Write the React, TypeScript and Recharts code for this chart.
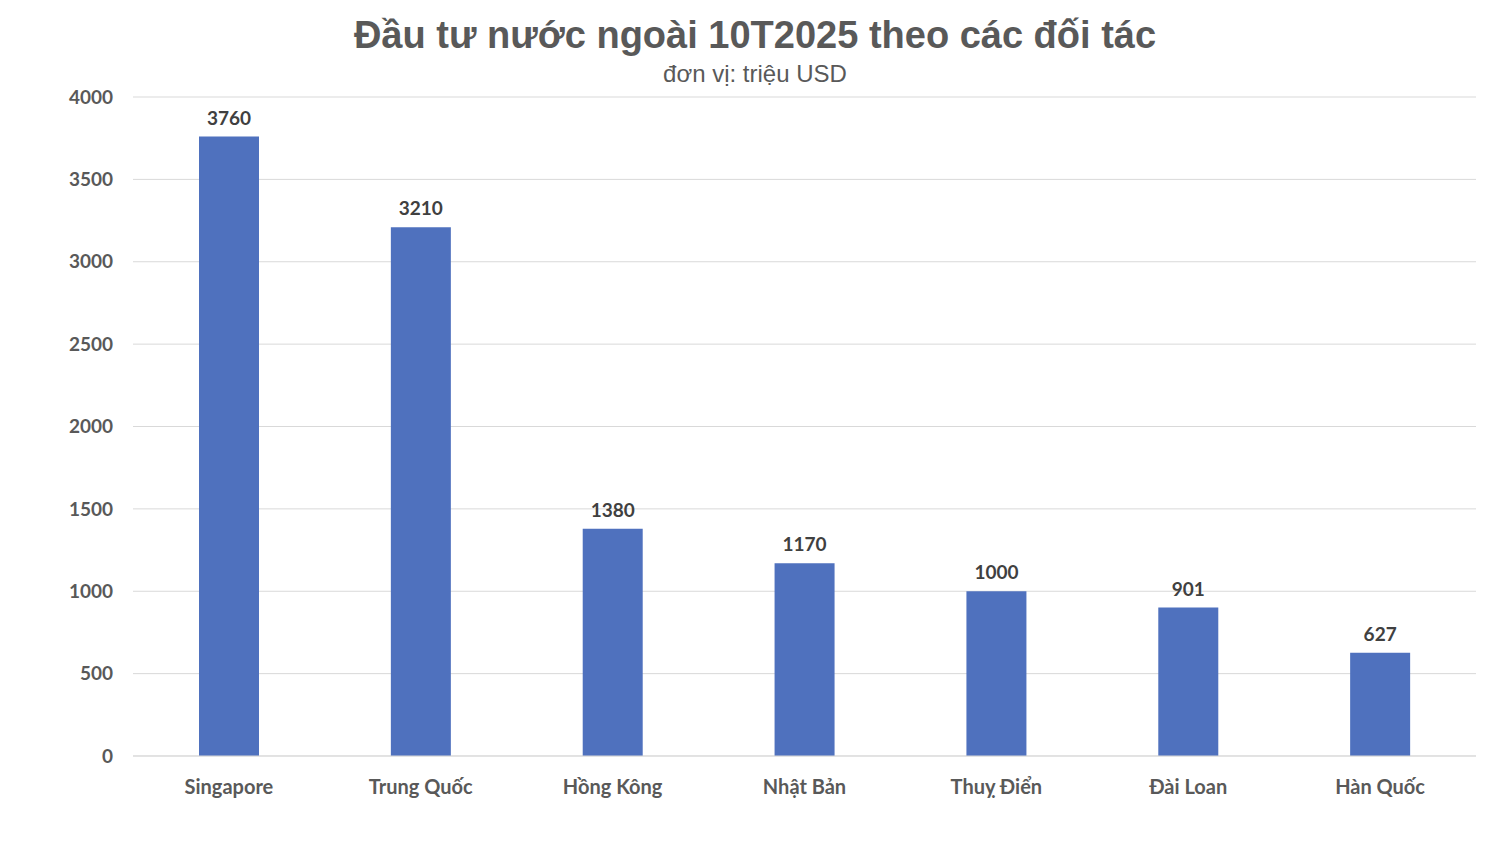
import { BarChart, Bar, XAxis, YAxis, CartesianGrid, LabelList } from "recharts";

const partners = ["Singapore", "Trung Quốc", "Hồng Kông", "Nhật Bản", "Thuỵ Điển", "Đài Loan", "Hàn Quốc"];
const investment = [3760, 3210, 1380, 1170, 1000, 901, 627];
const yTicks = [0, 500, 1000, 1500, 2000, 2500, 3000, 3500, 4000];

const data = partners.map((name, i) => ({ name, value: investment[i] }));

export default function App() {
  return (
    <div style={{ position: "absolute", left: 0, top: 0, width: 1510, height: 858, background: "#fff" }}>
      <div
        style={{
          position: "absolute",
          top: 14,
          width: 1510,
          textAlign: "center",
          fontFamily: "'Liberation Sans', Arial, sans-serif",
          fontWeight: "bold",
          fontSize: 38,
          color: "#595959",
        }}
      >
        Đầu tư nước ngoài 10T2025 theo các đối tác
      </div>
      <div
        style={{
          position: "absolute",
          top: 60,
          width: 1510,
          textAlign: "center",
          fontFamily: "'Liberation Sans', Arial, sans-serif",
          fontSize: 24,
          color: "#595959",
        }}
      >
        đơn vị: triệu USD
      </div>
      <BarChart
        width={1510}
        height={858}
        data={data}
        margin={{ top: 97, right: 34, bottom: 72, left: 0 }}
        barSize={60}
      >
        <CartesianGrid vertical={false} stroke="#d9d9d9" />
        <XAxis
          dataKey="name"
          height={30}
          axisLine={{ stroke: "#d9d9d9" }}
          tickLine={false}
          tickSize={0}
          tickMargin={24}
          tick={{ fill: "#595959", fontSize: 20, fontWeight: "bold", fontFamily: "Lato, sans-serif" }}
          interval={0}
        />
        <YAxis
          width={133}
          domain={[0, 4000]}
          ticks={yTicks}
          axisLine={false}
          tickLine={false}
          tickSize={0}
          tickMargin={20}
          tick={{ fill: "#595959", fontSize: 19, fontWeight: "bold", fontFamily: "Lato, sans-serif" }}
        />
        <Bar dataKey="value" fill="#4F71BE" isAnimationActive={false}>
          <LabelList
            dataKey="value"
            position="top"
            offset={12}
            style={{ fill: "#404040", fontSize: 19, fontWeight: "bold", fontFamily: "Lato, sans-serif" }}
          />
        </Bar>
      </BarChart>
    </div>
  );
}
